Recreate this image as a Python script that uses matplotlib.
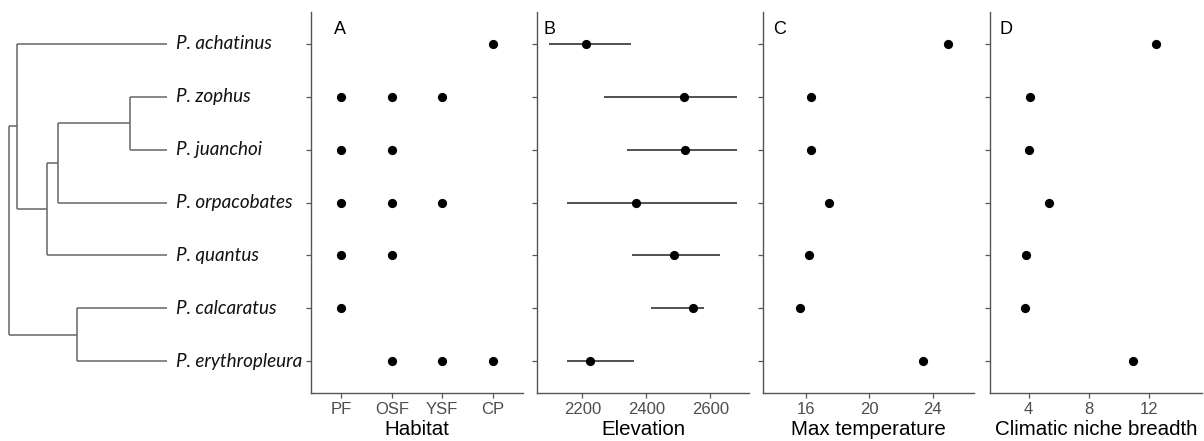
import matplotlib.pyplot as plt
import numpy as np

plt.rcParams['font.family'] = ['Liberation Sans', 'DejaVu Sans']

# species, top to bottom
species = ['P. achatinus', 'P. zophus', 'P. juanchoi', 'P. orpacobates',
           'P. quantus', 'P. calcaratus', 'P. erythropleura']
ypos = np.arange(len(species), 0, -1)

# tree: internal node depth (root = 0, tips = 1) and its children
node_depth = {'root': 0.0, 'n1': 0.047, 'n2': 0.237, 'n3': 0.307,
              'n4': 0.765, 'n5': 0.431}
node_children = {'root': ['n1', 'n5'],
                 'n1': ['P. achatinus', 'n2'],
                 'n2': ['n3', 'P. quantus'],
                 'n3': ['n4', 'P. orpacobates'],
                 'n4': ['P. zophus', 'P. juanchoi'],
                 'n5': ['P. calcaratus', 'P. erythropleura']}

# habitat use
habitats = ['PF', 'OSF', 'YSF', 'CP']
habitat_use = {
    'P. achatinus': ['CP'],
    'P. zophus': ['PF', 'OSF', 'YSF'],
    'P. juanchoi': ['PF', 'OSF'],
    'P. orpacobates': ['PF', 'OSF', 'YSF'],
    'P. quantus': ['PF', 'OSF'],
    'P. calcaratus': ['PF'],
    'P. erythropleura': ['OSF', 'YSF', 'CP'],
}

# elevation: mean, min, max
elev_mean = [2211, 2517, 2522, 2367, 2485, 2547, 2224]
elev_min = [2097, 2266, 2338, 2152, 2356, 2416, 2152]
elev_max = [2351, 2684, 2684, 2684, 2630, 2580, 2360]

# max temperature
tmax = [24.95, 16.3, 16.35, 17.45, 16.2, 15.65, 23.4]
tmax_lo = [24.95, 16.3, 16.35, 17.45, 16.2, 15.65, 23.25]
tmax_hi = [24.95, 16.3, 16.35, 17.45, 16.2, 15.65, 23.55]

# climatic niche breadth
niche = [12.47, 4.1, 4.0, 5.33, 3.85, 3.75, 10.9]

W, H = 1204, 441
fig = plt.figure(figsize=(W / 100, H / 100), dpi=100)
bottom = (H - 393) / H
height = 381 / H
ylim = (0.4, len(species) + 0.6)

axis_col = '#555555'
tick_col = '#4d4d4d'
tree_col = '#666666'

# --- tree ---
tax = fig.add_axes([0, bottom, 311 / W, height])
tax.set_xlim(-0.059, 1.913)
tax.set_ylim(*ylim)
tax.axis('off')
tip_y = dict(zip(species, ypos))


def draw(node):
    if node in tip_y:
        return tip_y[node], 1.0
    d = node_depth[node]
    ys = []
    for ch in node_children[node]:
        cy, cd = draw(ch)
        tax.plot([d, cd], [cy, cy], color=tree_col, lw=1.1, solid_capstyle='butt')
        ys.append(cy)
    tax.plot([d, d], [min(ys), max(ys)], color=tree_col, lw=1.1, solid_capstyle='butt')
    return (min(ys) + max(ys)) / 2, d


draw('root')
for sp, y in zip(species, ypos):
    tax.text(1.057, y, sp, style='italic', family='Lato', fontsize=13.6,
             va='center', ha='left', color='#111111')


def style(ax, xlabel, letter, lx):
    ax.set_ylim(*ylim)
    ax.set_yticks(ypos)
    ax.set_yticklabels([])
    for s in ['top', 'right']:
        ax.spines[s].set_visible(False)
    for s in ['left', 'bottom']:
        ax.spines[s].set_color(axis_col)
        ax.spines[s].set_linewidth(1.0)
    ax.tick_params(colors=axis_col, labelcolor=tick_col, length=3.5, width=0.9,
                   labelsize=12, pad=3)
    ax.set_xlabel(xlabel, fontsize=14.8, labelpad=2, color='black')
    ax.text(lx, 0.955, letter, transform=ax.transAxes, fontsize=13,
            ha='left', va='center')


panels = [(311, 212), (537, 212), (763, 211), (990, 212)]
axes = [fig.add_axes([x / W, bottom, w / W, height]) for x, w in panels]
dot = dict(s=44, color='black', zorder=3, linewidths=0)

# A: habitat
ax = axes[0]
for sp, y in zip(species, ypos):
    xs = [habitats.index(h) for h in habitat_use[sp]]
    ax.scatter(xs, [y] * len(xs), **dot)
ax.set_xlim(-0.6, len(habitats) - 0.4)
ax.set_xticks(range(len(habitats)))
ax.set_xticklabels(habitats)
style(ax, 'Habitat', 'A', 0.11)

# B: elevation
ax = axes[1]
ax.hlines(ypos, elev_min, elev_max, color='#333333', lw=1.2, zorder=2)
ax.scatter(elev_mean, ypos, **dot)
ax.set_xlim(2058, 2721)
ax.set_xticks([2200, 2400, 2600])
style(ax, 'Elevation', 'B', 0.03)

# C: max temperature
ax = axes[2]
ax.hlines(ypos, tmax_lo, tmax_hi, color='#333333', lw=1.2, zorder=2)
ax.scatter(tmax, ypos, **dot)
ax.set_xlim(13.3, 26.6)
ax.set_xticks([16, 20, 24])
style(ax, 'Max temperature', 'C', 0.05)

# D: climatic niche breadth
ax = axes[3]
ax.scatter(niche, ypos, **dot)
ax.set_xlim(1.43, 15.5)
ax.set_xticks([4, 8, 12])
style(ax, 'Climatic niche breadth', 'D', 0.045)

fig.savefig('out.png', dpi=100)
